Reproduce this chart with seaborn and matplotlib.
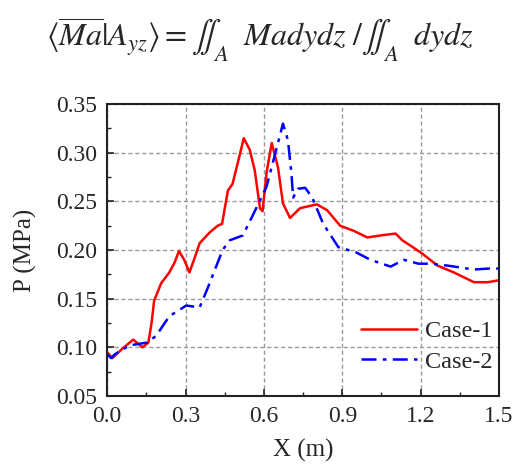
import numpy as np
import pandas as pd
import matplotlib
matplotlib.use('Agg')
import matplotlib.pyplot as plt
import seaborn as sns
from matplotlib.ticker import MultipleLocator

# Values
case1_x = [0.0, 0.02, 0.06, 0.10, 0.135, 0.158, 0.17, 0.18, 0.207, 0.238, 0.258, 0.275,
           0.295, 0.315, 0.335, 0.354, 0.392, 0.423, 0.44, 0.462, 0.48, 0.505, 0.523,
           0.546, 0.565, 0.585, 0.595, 0.61, 0.63, 0.654, 0.673, 0.70, 0.738, 0.77,
           0.803, 0.842, 0.892, 0.942, 0.996, 1.046, 1.104, 1.13, 1.17, 1.208, 1.265,
           1.327, 1.404, 1.458, 1.5]
case1_y = [0.095, 0.089, 0.099, 0.108, 0.100, 0.105, 0.125, 0.148, 0.166, 0.177, 0.187, 0.199,
           0.190, 0.177, 0.192, 0.207, 0.218, 0.225, 0.227, 0.261, 0.268, 0.295, 0.315,
           0.303, 0.282, 0.243, 0.240, 0.279, 0.310, 0.285, 0.248, 0.233, 0.243, 0.245,
           0.247, 0.241, 0.225, 0.220, 0.213, 0.215, 0.217, 0.210, 0.203, 0.196, 0.184,
           0.177, 0.167, 0.167, 0.169]

case2_x = [0.0, 0.015, 0.03, 0.085, 0.154, 0.188, 0.238, 0.303, 0.354, 0.385, 0.42,
           0.442, 0.469, 0.519, 0.558, 0.61, 0.65, 0.673, 0.692, 0.705, 0.712, 0.73,
           0.758, 0.785, 0.827, 0.885, 0.95, 1.008, 1.085, 1.135, 1.192, 1.238, 1.304,
           1.404, 1.458, 1.5]
case2_y = [0.093, 0.089, 0.093, 0.102, 0.105, 0.112, 0.132, 0.143, 0.141, 0.161, 0.185,
           0.200, 0.210, 0.215, 0.236, 0.265, 0.306, 0.330, 0.313, 0.280, 0.254, 0.263,
           0.264, 0.254, 0.227, 0.203, 0.198, 0.190, 0.183, 0.190, 0.186, 0.186, 0.184,
           0.180, 0.181, 0.181]

x_ticks = [0.0, 0.3, 0.6, 0.9, 1.2, 1.5]
y_ticks = [0.05, 0.10, 0.15, 0.20, 0.25, 0.30, 0.35]

sns.set_style('white')
plt.rcParams['font.family'] = ['Liberation Serif', 'DejaVu Serif']
plt.rcParams['mathtext.fontset'] = 'stix'

df1 = pd.DataFrame({'x': case1_x, 'y': case1_y})
df2 = pd.DataFrame({'x': case2_x, 'y': case2_y})

fig = plt.figure(figsize=(5.15, 4.67), dpi=100)
ax = fig.add_axes([0.208, 0.152, 0.761, 0.625])

sns.lineplot(data=df1, x='x', y='y', ax=ax, color='#ff0000', lw=1.8, label='Case-1')
sns.lineplot(data=df2, x='x', y='y', ax=ax, color='#0000ff', lw=1.8, label='Case-2',
             linestyle=(0, (6, 2.5, 1.5, 2.5)))

ax.set_xlim(0, 1.5)
ax.set_ylim(0.05, 0.35)
ax.set_xticks(x_ticks)
ax.set_yticks(y_ticks)
ax.set_xticklabels([f'{v:.1f}' for v in x_ticks])
ax.set_yticklabels([f'{v:.2f}' for v in y_ticks])
ax.xaxis.set_minor_locator(MultipleLocator(0.15))
ax.yaxis.set_minor_locator(MultipleLocator(0.025))
ax.tick_params(which='both', direction='in', bottom=True, left=True,
               top=False, right=False, color='#222222')
ax.tick_params(which='major', length=5, width=1.2, labelsize=17)
ax.tick_params(axis='x', which='major', pad=7)
ax.tick_params(axis='y', which='major', pad=7)
ax.tick_params(which='minor', length=3, width=1.0)
ax.grid(True, which='major', color='#999999', linestyle=(0, (3, 2)), lw=1.0)
for s in ax.spines.values():
    s.set_linewidth(1.5)
    s.set_color('#222222')

ax.set_xlabel('X (m)', fontsize=18, labelpad=9)
ax.set_ylabel('P (MPa)', fontsize=18, labelpad=14)

leg = ax.legend(loc='lower right', bbox_to_anchor=(1.02, 0.03), frameon=False,
                fontsize=17.5, handlelength=2.3, handletextpad=0.3,
                labelspacing=0.35, borderaxespad=0.2)

fig.text(0.505, 0.915,
         r'$\langle\overline{Ma}|A_{yz}\rangle = \iint_{A}\ \ Madydz\ /\iint_{A}\ \ dydz$',
         ha='center', va='center', fontsize=23)

fig.savefig('out.png', dpi=100)
